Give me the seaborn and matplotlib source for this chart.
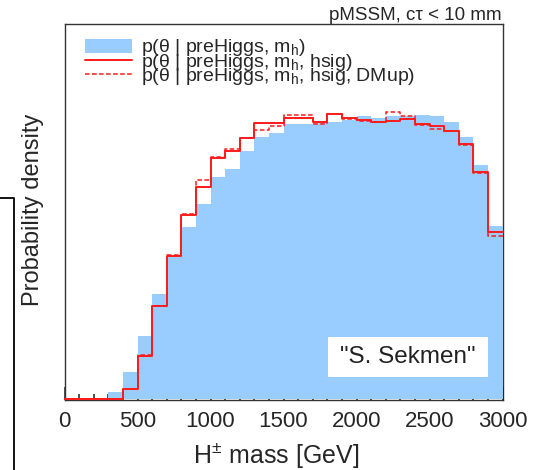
import numpy as np
import pandas as pd
import matplotlib
matplotlib.use("Agg")
import matplotlib.pyplot as plt
import seaborn as sns
from matplotlib.patches import Patch, Rectangle
from matplotlib.lines import Line2D
from matplotlib.ticker import MultipleLocator

# ---------------- data (arbitrary density units) ----------------
mass_min, mass_max, bin_width = 0, 3000, 100
bin_centers = np.arange(mass_min + bin_width / 2, mass_max, bin_width)

p_mh = [0, 0, 0, 6.8, 27.2, 63.5, 105.2, 142.2, 172.2, 195.2,
        222.2, 230.2, 247.8, 262.8, 266.8, 275.2, 275.5, 276.8, 277.8, 279.5,
        283.8, 281.2, 283.5, 283.5, 284.5, 283.5, 277.2, 262.8, 234.2, 172.8]
p_mh_hsig = [0, 0, 0, 0, 10.2, 42.8, 93.5, 142.8, 184.5, 212.2,
             241.2, 247.8, 261.2, 276.0, 276.5, 281.0, 281.0, 277.8, 285.0, 281.2,
             279.5, 277.8, 278.5, 280.0, 275.8, 273.0, 268.0, 255.5, 227.2, 167.2]
p_mh_hsig_dmup = [0, 0, 0, 0, 10.2, 43.8, 93.5, 143.8, 185.5, 218.8,
                  242.2, 250.2, 261.0, 269.5, 273.5, 284.3, 284.0, 275.8, 285.0, 280.5,
                  278.8, 277.2, 287.8, 283.5, 274.5, 270.2, 268.0, 254.2, 226.2, 162.8]

labels = ["p(θ | preHiggs, m$_\\mathrm{h}$)",
          "p(θ | preHiggs, m$_\\mathrm{h}$, hsig)",
          "p(θ | preHiggs, m$_\\mathrm{h}$, hsig, DMup)"]
x_ticks = [0, 500, 1000, 1500, 2000, 2500, 3000]

df = pd.DataFrame({"mass": bin_centers, "mh": p_mh, "hsig": p_mh_hsig,
                   "dmup": p_mh_hsig_dmup})

# ---------------- style ----------------
sns.set_style("white")
plt.rcParams["font.family"] = ["Liberation Sans", "DejaVu Sans"]
plt.rcParams["mathtext.fontset"] = "custom"
plt.rcParams["mathtext.rm"] = "Liberation Sans"
plt.rcParams["mathtext.it"] = "Liberation Sans:italic"
plt.rcParams["mathtext.sf"] = "Liberation Sans"

blue = "#99ccff"
red = "#ff1a1a"
nbins = len(bin_centers)

fig = plt.figure(figsize=(5.37, 4.70), dpi=100)
ax = fig.add_axes([64.5 / 537, 70.5 / 470, 438 / 537, 375.5 / 470])

common = dict(data=df, x="mass", bins=nbins, binrange=(mass_min, mass_max),
              element="step", ax=ax)
sns.histplot(weights="mh", fill=True, color=blue, alpha=1, linewidth=0,
             zorder=1, **common)
sns.histplot(weights="dmup", fill=False, color=red, linewidth=1.1,
             linestyle=(0, (3, 1.6)), zorder=3, **common)
sns.histplot(weights="hsig", fill=False, color=red, linewidth=1.4, zorder=4,
             **common)
for ln in ax.lines:
    ln.set_clip_on(False)

ax.set_xlim(mass_min, mass_max)
ax.set_ylim(-0.6, 375.5)
ax.set_yticks([])
ax.set_xticks(x_ticks)
ax.set_xticklabels([str(t) for t in x_ticks])
ax.xaxis.set_minor_locator(MultipleLocator(100))
ax.tick_params(axis="x", which="major", direction="in", length=9.5, width=1.1,
               color="#222222", labelsize=16, pad=8, bottom=True, top=False)
ax.tick_params(axis="x", which="minor", direction="in", length=4.5, width=1.1,
               color="#222222", bottom=True, top=False)
for name, sp in ax.spines.items():
    sp.set_color("#333333")
    sp.set_linewidth(1.0)
    sp.set_visible(True)
ax.spines["right"].set_zorder(0.5)
ax.spines["bottom"].set_zorder(0.5)

ax.set_xlabel(r"H$^{\pm}$ mass [GeV]", fontsize=18)
ax.set_ylabel("Probability density", fontsize=17)
ax.xaxis.set_label_coords((276 - 64.5) / 438, -(455 - 399.5) / 375.5)
ax.xaxis.label.set_va("center")
ax.yaxis.set_label_coords(-(64.5 - 33) / 438, (399.5 - 210) / 375.5)
ax.yaxis.label.set_va("center")

# legend
handles = [Patch(facecolor=blue, edgecolor="none"),
           Line2D([], [], color=red, lw=1.4),
           Line2D([], [], color=red, lw=1.1, linestyle=(0, (3, 1.6)))]
leg = ax.legend(handles, labels, loc="upper left",
                bbox_to_anchor=(85 / 537, 1 - 37.5 / 470),
                bbox_transform=fig.transFigure, frameon=False, fontsize=14,
                handlelength=2.42, handletextpad=0.48, labelspacing=-0.35,
                borderpad=0, borderaxespad=0)

# "S. Sekmen" box
ax.add_patch(Rectangle((0.601, 0.0591), 0.365, 0.108, transform=ax.transAxes,
                       facecolor="white", edgecolor="none", zorder=5))
ax.text(0.601 + 0.365 / 2, 0.0591 + 0.108 / 2, "\"S. Sekmen\"",
        transform=ax.transAxes, ha="center", va="center", fontsize=17.5,
        color="#222222", zorder=6)

fig.text(502 / 537, 1 - 20.5 / 470, "pMSSM, cτ < 10 mm", ha="right",
         va="baseline", fontsize=13.5)

# cropped-frame artifact at the left edge
fig.add_artist(Line2D([0, 14 / 537, 14 / 537], [1 - 198 / 470, 1 - 198 / 470, 0],
                      transform=fig.transFigure, color="black", lw=1.3))

fig.savefig("out.png", dpi=100)
